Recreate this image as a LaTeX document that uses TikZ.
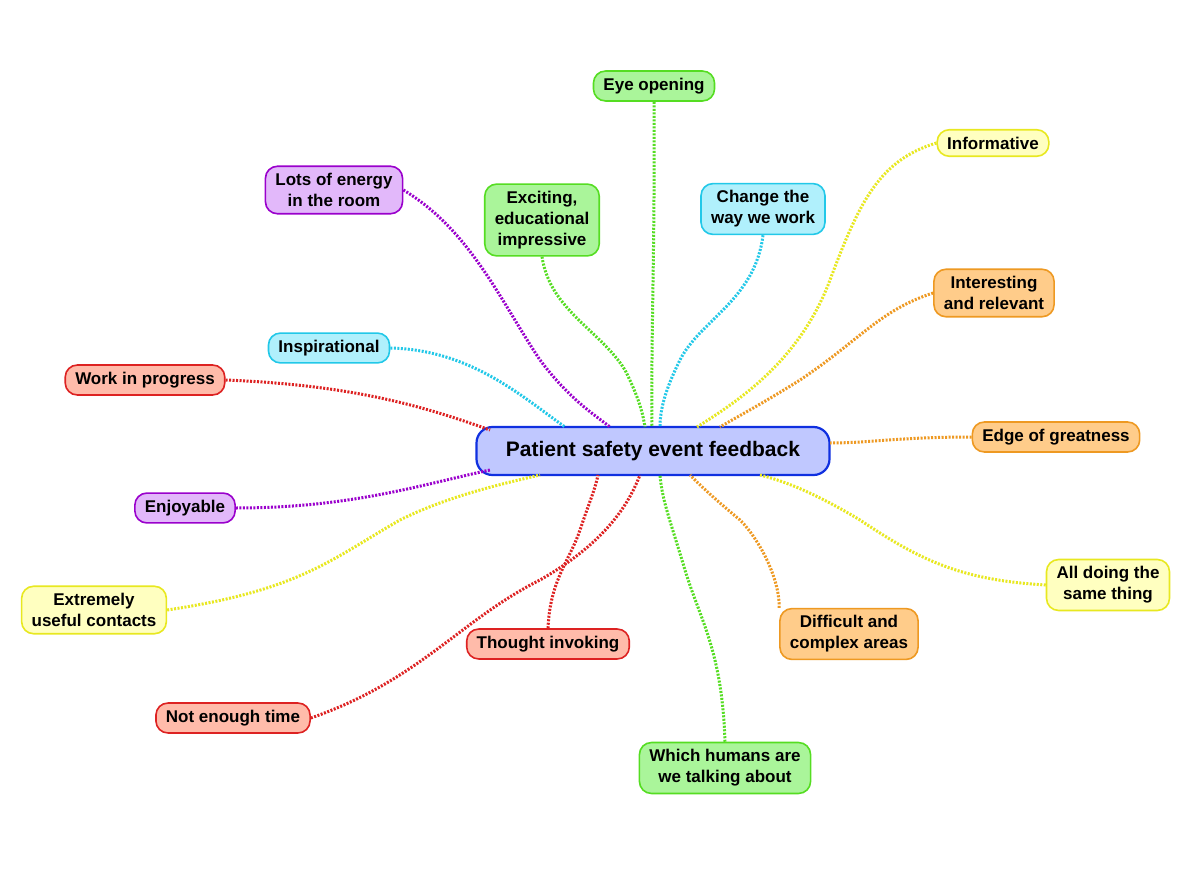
\documentclass[tikz,border=0pt]{standalone}
\usepackage{fontspec}
\setmainfont{Liberation Sans}
\definecolor{purL}{HTML}{9A00CC}\definecolor{purF}{HTML}{E2B8FA}
\definecolor{grnL}{HTML}{55DD22}\definecolor{grnF}{HTML}{AAF59A}
\definecolor{cyaL}{HTML}{22C8E8}\definecolor{cyaF}{HTML}{B0F0FC}
\definecolor{yelL}{HTML}{E8E820}\definecolor{yelF}{HTML}{FFFFC0}
\definecolor{oraL}{HTML}{EE9922}\definecolor{oraF}{HTML}{FFCC8A}
\definecolor{redL}{HTML}{DD2222}\definecolor{redF}{HTML}{FFBBAA}
\definecolor{cenL}{HTML}{1030E0}\definecolor{cenF}{HTML}{C0C8FF}
\begin{document}
\begin{tikzpicture}[x=1pt,y=-1pt,
 leaf/.style={draw=#1L,fill=#1F,line width=1.6pt,rounded corners=12pt,align=center,
   font=\fontsize{17}{21}\selectfont\bfseries,inner xsep=10pt,inner ysep=7pt},
 link/.style={draw=#1L,line width=3pt,dash pattern=on 2pt off 1.5pt}]
\useasboundingbox[fill=white] (0,0) rectangle (1200,872);
\node[draw=cenL,fill=cenF,line width=2.2pt,rounded corners=16pt,minimum width=353pt,minimum height=48pt,font=\fontsize{21}{25}\selectfont\bfseries] (c) at (653,451) {Patient safety event feedback};
\node[leaf=grn] (eye) at (654,86) {Eye opening};
\node[leaf=yel] (inf) at (993,143) {Informative};
\node[leaf=pur] (lots) at (334,190) {Lots of energy\\in the room};
\node[leaf=grn] (exc) at (542,220) {Exciting,\\educational\\impressive};
\node[leaf=cya] (chg) at (763,209) {Change the\\way we work};
\node[leaf=ora] (int) at (994,293) {Interesting\\and relevant};
\node[leaf=cya] (insp) at (329,348) {Inspirational};
\node[leaf=red] (work) at (145,380) {Work in progress};
\node[leaf=ora] (edge) at (1056,437) {Edge of greatness};
\node[leaf=pur] (enj) at (185,508) {Enjoyable};
\node[leaf=yel] (ext) at (94,610) {Extremely\\useful contacts};
\node[leaf=red] (tho) at (548,644) {Thought invoking};
\node[leaf=ora] (dif) at (849,634) {Difficult and\\complex areas};
\node[leaf=yel] (all) at (1108,585) {All doing the\\same thing};
\node[leaf=red] (not) at (233,718) {Not enough time};
\node[leaf=grn] (whi) at (725,768) {Which humans are\\we talking about};
\coordinate (c1) at (652,427); \coordinate (c2) at (697,427); \coordinate (c3) at (610,427);
\coordinate (c4) at (645,427); \coordinate (c5) at (660,427); \coordinate (c6) at (720,427);
\coordinate (c7) at (565,427); \coordinate (c8) at (490,430); \coordinate (c9) at (830,443);
\coordinate (c10) at (490,470); \coordinate (c11) at (540,475); \coordinate (c12) at (598,475);
\coordinate (c13) at (640,475); \coordinate (c14) at (690,475); \coordinate (c15) at (760,475);
\coordinate (c16) at (660,475);
\begin{scope}[on background layer/.style={}]
\draw[link=grn] (eye.south) .. controls (655,250) and (651,330) .. (c1);
\draw[link=yel] (inf.west) .. controls (880,160) and (860,200) .. (830,280) .. controls (800,360) and (740,400) .. (c2);
\draw[link=pur] (lots.east) .. controls (470,230) and (500,300) .. (540,360) .. controls (570,400) and (595,415) .. (c3);
\draw[link=grn] (exc.south) .. controls (550,310) and (600,330) .. (625,370) .. controls (640,400) and (643,415) .. (c4);
\draw[link=cya] (chg.south) .. controls (755,300) and (700,320) .. (680,360) .. controls (665,390) and (660,410) .. (c5);
\draw[link=ora] (int.west) .. controls (880,310) and (860,340) .. (800,380) .. controls (760,405) and (735,418) .. (c6);
\draw[link=cya] (insp.east) .. controls (470,350) and (520,395) .. (c7);
\draw[link=red] (work.east) .. controls (350,385) and (420,405) .. (c8);
\draw[link=ora] (edge.west) .. controls (900,437) and (870,443) .. (c9);
\draw[link=pur] (enj.east) .. controls (350,508) and (420,485) .. (c10);
\draw[link=yel] (ext.east) .. controls (300,590) and (330,560) .. (400,520) .. controls (450,495) and (510,482) .. (c11);
\draw[link=red] (tho.north) .. controls (550,580) and (570,560) .. (580,530) .. controls (590,500) and (595,490) .. (c12);
\draw[link=red] (not.east) .. controls (420,680) and (460,620) .. (540,580) .. controls (610,540) and (630,500) .. (c13);
\draw[link=ora] (dif.north west) .. controls (780,580) and (760,540) .. (740,520) .. controls (710,495) and (700,485) .. (c14);
\draw[link=yel] (all.west) .. controls (960,580) and (920,560) .. (860,520) .. controls (810,490) and (780,480) .. (c15);
\draw[link=grn] (whi.north) .. controls (722,650) and (700,620) .. (685,570) .. controls (670,520) and (662,500) .. (c16);
\end{scope}
\end{tikzpicture}
\end{document}
